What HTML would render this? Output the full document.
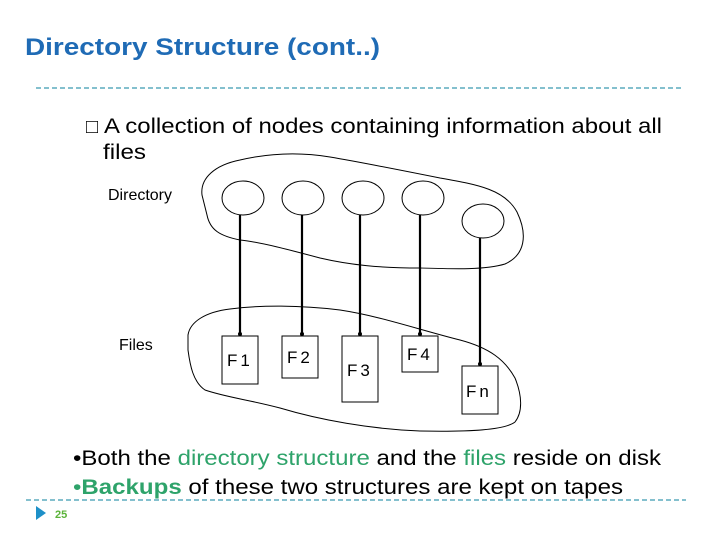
<!DOCTYPE html>
<html><head><style>
html,body{margin:0;padding:0;background:#fff;}
svg{display:block;}
text{font-family:"Liberation Sans",Arial,sans-serif;}
</style></head><body>
<svg width="720" height="540" viewBox="0 0 720 540" xmlns="http://www.w3.org/2000/svg">
<text x="25" y="55" font-size="24" font-weight="bold" fill="#1f6bb5" textLength="355" lengthAdjust="spacingAndGlyphs">Directory Structure (cont..)</text>
<line x1="36" y1="88" x2="684" y2="88" stroke="#3a9ab0" stroke-width="1.2" stroke-dasharray="5,3"/>
<text x="86" y="133" font-size="20" fill="#000">□</text>
<text x="104" y="133" font-size="21" fill="#000" textLength="558" lengthAdjust="spacingAndGlyphs">A collection of nodes containing information about all</text>
<text x="103" y="159" font-size="21" fill="#000" textLength="43" lengthAdjust="spacingAndGlyphs">files</text>
<text x="108" y="200" font-size="16" fill="#000">Directory</text>
<text x="119" y="350" font-size="16" fill="#000">Files</text>
<g fill="none" stroke="#000" stroke-width="1">
<path d="M202,195 C200,178 215,165 240,160 C270,153 300,152 330,157 C360,162 400,170 440,178 C480,185 505,190 517,212 C528,235 525,255 505,264 C485,270 455,269 420,268 C380,268 350,265 320,258 C290,250 260,242 240,240 C220,236 210,230 207,215 Z"/>
<path d="M188,335 C190,322 205,312 230,309 C260,305 300,305 340,310 C380,316 420,330 460,340 C490,348 505,360 515,378 C522,395 523,412 515,422 C505,430 470,432 420,431 C370,429 320,420 280,408 C250,400 225,397 205,390 C193,382 190,365 188,350 Z"/>
<ellipse cx="243" cy="198" rx="21" ry="17"/>
<ellipse cx="303" cy="198" rx="21" ry="17"/>
<ellipse cx="363" cy="198" rx="21" ry="17"/>
<ellipse cx="423" cy="198" rx="21" ry="17"/>
<ellipse cx="483" cy="221" rx="21" ry="17"/>
<rect x="222" y="336" width="36" height="48"/>
<rect x="282" y="336" width="36" height="42"/>
<rect x="342" y="336" width="36" height="66"/>
<rect x="402" y="336" width="36" height="36"/>
<rect x="462" y="366" width="36" height="48"/>
</g>
<g stroke="#000" stroke-width="2.2">
<line x1="240" y1="215" x2="240" y2="334"/>
<line x1="302" y1="215" x2="302" y2="334"/>
<line x1="360" y1="215" x2="360" y2="334"/>
<line x1="420" y1="215" x2="420" y2="334"/>
<line x1="480" y1="238" x2="480" y2="364"/>
</g>
<g fill="#000">
<circle cx="240" cy="334" r="2"/><circle cx="302" cy="334" r="2"/><circle cx="360" cy="334" r="2"/><circle cx="420" cy="334" r="2"/><circle cx="480" cy="364" r="2"/>
</g>
<g font-size="17" fill="#000" letter-spacing="3">
<text x="227" y="366">F1</text>
<text x="287" y="363">F2</text>
<text x="347" y="376">F3</text>
<text x="407" y="360">F4</text>
<text x="466" y="397">Fn</text>
</g>
<text x="73" y="465" font-size="21" fill="#000" textLength="588" lengthAdjust="spacingAndGlyphs">•Both the <tspan fill="#2ea36a">directory structure</tspan> and the <tspan fill="#2ea36a">files</tspan> reside on disk</text>
<text x="73" y="494" font-size="21" fill="#000" textLength="550" lengthAdjust="spacingAndGlyphs"><tspan fill="#2ea36a">•</tspan><tspan fill="#2ea36a" font-weight="bold">Backups</tspan> of these two structures are kept on tapes</text>
<line x1="26" y1="500" x2="686" y2="500" stroke="#3a9ab0" stroke-width="1.2" stroke-dasharray="5,3"/>
<polygon points="36,506 46,513 36,520" fill="#1e90c8"/>
<text x="55" y="518" font-size="11" font-weight="bold" fill="#5bb33a">25</text>
</svg>
</body></html>
